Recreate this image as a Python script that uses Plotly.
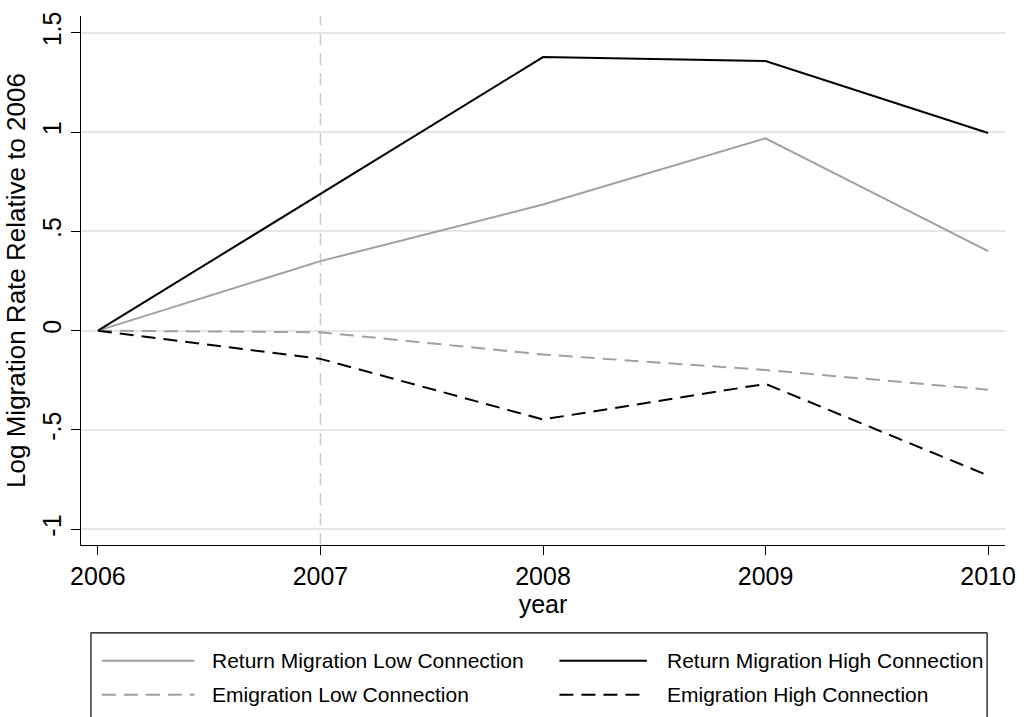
import plotly.graph_objects as go

# Years and log migration rates relative to 2006
years = [2006, 2007, 2008, 2009, 2010]
return_low = [0.0, 0.35, 0.635, 0.968, 0.40]
return_high = [0.0, 0.69, 1.377, 1.357, 0.995]
emig_low = [0.0, -0.008, -0.12, -0.198, -0.297]
emig_high = [0.0, -0.142, -0.447, -0.268, -0.729]

series_names = [
    "Return Migration Low Connection",
    "Return Migration High Connection",
    "Emigration Low Connection",
    "Emigration High Connection",
]
y_ticks = [-1, -0.5, 0, 0.5, 1, 1.5]
y_tick_text = ["-1", "-.5", "0", ".5", "1", "1.5"]
x_ticks = years
marker_year = 2007

GRAY = "#a0a0a0"
BLACK = "#000000"
DASH = "14px,8px"
FONT = "Liberation Sans, Arial, Helvetica, sans-serif"

styles = [
    dict(color=GRAY, width=2, dash="solid"),
    dict(color=BLACK, width=2, dash="solid"),
    dict(color=GRAY, width=2, dash=DASH),
    dict(color=BLACK, width=2, dash=DASH),
]
values = [return_low, return_high, emig_low, emig_high]

fig = go.Figure()
for name, vals, st in zip(series_names, values, styles):
    fig.add_trace(go.Scatter(x=years, y=vals, mode="lines", name=name,
                             line=st, showlegend=False))

W, H = 1028, 717
ML, MR, MT, MB = 81, 18, 15, 172
pw, ph = W - ML - MR, H - MT - MB


def px_x(px):
    return (px - ML) / pw


def px_y(py):
    return (H - MB - py) / ph


def seg(x0, y0, x1, y1, line):
    return dict(type="line", xref="paper", yref="paper",
                x0=px_x(x0), x1=px_x(x1), y0=px_y(y0), y1=px_y(y1), line=line)


# Reference line marking 2007
shapes = [dict(type="line", xref="x", yref="paper", x0=marker_year, x1=marker_year,
               y0=0, y1=1, layer="below",
               line=dict(color="#cccccc", width=1.5, dash="12px,8px"))]

# Legend drawn as a framed two-column key below the plot
frame = dict(color=BLACK, width=1.2)
BOX_L, BOX_R, BOX_T, BOX_B = 91, 992, 633, 740
shapes += [
    seg(BOX_L, BOX_T, BOX_R, BOX_T, frame),
    seg(BOX_L, BOX_T, BOX_L, BOX_B, frame),
    seg(BOX_R, BOX_T, BOX_R, BOX_B, frame),
]
annotations = []
slots = [(102, 195, 211, 661), (562, 650, 668, 661),
         (102, 195, 211, 695), (562, 650, 668, 695)]
for name, st, (lx0, lx1, tx, ry) in zip(series_names, styles, slots):
    shapes.append(seg(lx0, ry, lx1, ry, st))
    annotations.append(dict(text=name, xref="paper", yref="paper",
                            x=px_x(tx), y=px_y(ry), xanchor="left", yanchor="middle",
                            showarrow=False, font=dict(size=21, color=BLACK, family=FONT)))

fig.update_layout(
    width=W, height=H, autosize=False,
    margin=dict(l=ML, r=MR, t=MT, b=MB),
    paper_bgcolor="white", plot_bgcolor="white",
    font=dict(family=FONT, color=BLACK, size=25),
    shapes=shapes, annotations=annotations,
    xaxis=dict(range=[2005.924, 2010.076], tickvals=x_ticks,
               ticktext=[str(y) for y in x_ticks],
               showgrid=False, zeroline=False, showline=True, linecolor=BLACK,
               linewidth=1.2, ticks="outside", ticklen=9, tickcolor=BLACK,
               tickfont=dict(size=25),
               title=dict(text="year", font=dict(size=25), standoff=4)),
    yaxis=dict(range=[-1.079, 1.584], tickvals=y_ticks, ticktext=y_tick_text,
               tickangle=-90, showgrid=True, gridcolor="#e6e6e6", gridwidth=1.5,
               zeroline=False, showline=True, linecolor=BLACK, linewidth=1.2,
               ticks="outside", ticklen=9, tickcolor=BLACK,
               tickfont=dict(size=25),
               title=dict(text="Log Migration Rate Relative to 2006",
                          font=dict(size=26), standoff=4)),
)

fig.write_html("out.html")
